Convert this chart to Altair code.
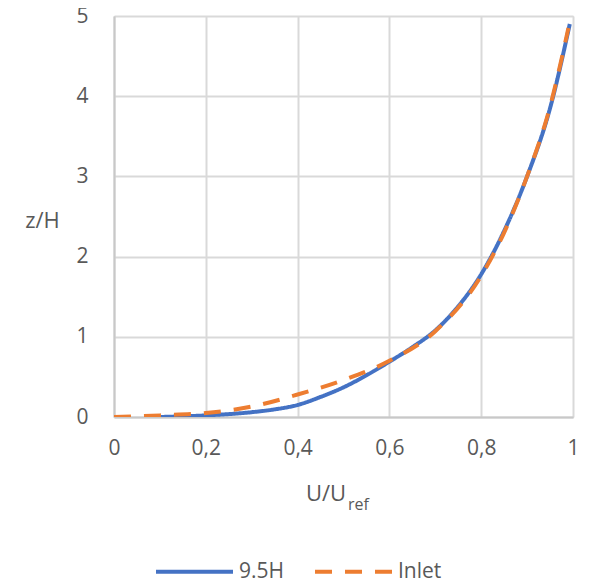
import altair as alt
import pandas as pd

# 9.5H profile
u_95h = [0.10, 0.20, 0.30, 0.35, 0.40, 0.45, 0.50, 0.55, 0.60, 0.65, 0.70, 0.75, 0.80, 0.85, 0.90, 0.95, 0.993]
z_95h = [0.00, 0.02, 0.06, 0.095, 0.15, 0.25, 0.37, 0.52, 0.69, 0.87, 1.08, 1.38, 1.78, 2.32, 3.00, 3.85, 4.90]

# Inlet profile
u_inlet = [0.00, 0.10, 0.20, 0.30, 0.40, 0.50, 0.60, 0.70, 0.80, 0.85, 0.90, 0.95, 0.99]
z_inlet = [0.00, 0.02, 0.05, 0.13, 0.28, 0.46, 0.70, 1.07, 1.76, 2.30, 3.00, 3.87, 4.85]

series = ["9.5H", "Inlet"]
colors = ["#4472c4", "#ed7d31"]

rows = []
for i, (u, z) in enumerate(zip(u_95h, z_95h)):
    rows.append({"U": u, "z": z, "series": "9.5H", "ord": i})
for i, (u, z) in enumerate(zip(u_inlet, z_inlet)):
    rows.append({"U": u, "z": z, "series": "Inlet", "ord": i})
df = pd.DataFrame(rows)

FONT = "Open Sans"
GREY = "#595959"

legend_cfg = dict(title=None, orient="none", direction="horizontal",
                  legendX=40, legendY=515, symbolType="stroke",
                  symbolSize=5929, symbolStrokeWidth=4, columnPadding=22,
                  labelFont=FONT, labelFontSize=21, labelColor=GREY,
                  labelOffset=4)

lines = alt.Chart(df).mark_line(strokeWidth=4, interpolate="monotone", clip=True).encode(
    x=alt.X("U:Q", scale=alt.Scale(domain=[0, 1], nice=False),
            axis=alt.Axis(values=[0, 0.2, 0.4, 0.6, 0.8, 1], title=None,
                          labelExpr="replace(format(datum.value, '~g'), '.', ',')",
                          labelPadding=20, labelFlush=False, ticks=False,
                          gridColor="#d9d9d9", gridWidth=2,
                          domainColor="#c8c8c8", domainWidth=2,
                          labelFont=FONT, labelFontSize=21, labelColor=GREY)),
    y=alt.Y("z:Q", scale=alt.Scale(domain=[0, 5], nice=False),
            axis=alt.Axis(values=[0, 1, 2, 3, 4, 5], title="z/H", titleAngle=0,
                          titleX=-72, titleY=204, titleAlign="center", titleBaseline="middle",
                          titleFont=FONT, titleFontSize=22, titleFontWeight="normal", titleColor=GREY,
                          labelPadding=26, labelFlush=False, ticks=False,
                          gridColor="#d9d9d9", gridWidth=2,
                          domainColor="#c8c8c8", domainWidth=2,
                          labelFont=FONT, labelFontSize=21, labelColor=GREY)),
    color=alt.Color("series:N", scale=alt.Scale(domain=series, range=colors),
                    legend=alt.Legend(**legend_cfg)),
    strokeDash=alt.StrokeDash("series:N", scale=alt.Scale(domain=series, range=[[1, 0], [17, 13]]),
                              legend=alt.Legend(**legend_cfg)),
    order="ord:Q",
)

title_main = alt.Chart(pd.DataFrame({"t": ["U/U"]})).mark_text(
    font=FONT, fontSize=22, color=GREY, align="center", baseline="middle"
).encode(x=alt.value(212), y=alt.value(478), text="t:N")

title_sub = alt.Chart(pd.DataFrame({"t": ["ref"]})).mark_text(
    font=FONT, fontSize=16, color=GREY, align="left", baseline="middle"
).encode(x=alt.value(234), y=alt.value(489), text="t:N")

chart = alt.layer(lines, title_main, title_sub).properties(
    width=459, height=401,
    autosize=alt.AutoSizeParams(type="none"),
    padding={"left": 106, "top": 8, "right": 12, "bottom": 175},
).configure_view(stroke=None).configure(font=FONT)

chart.save("out.html", embed_options={"renderer": "svg", "actions": False})
